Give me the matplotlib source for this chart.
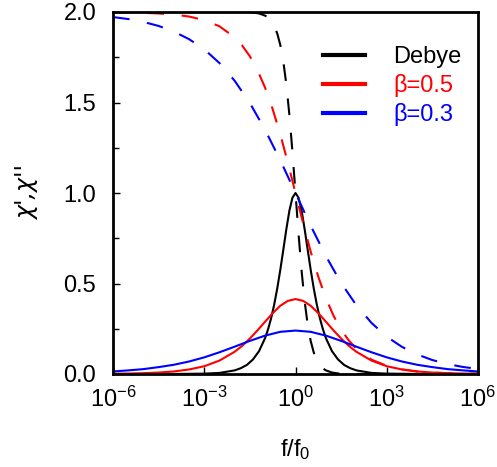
import matplotlib
matplotlib.use("Agg")
import matplotlib.pyplot as plt
from matplotlib.ticker import FixedLocator, FixedFormatter, MultipleLocator
from matplotlib.lines import Line2D
import numpy as np

plt.rcParams['font.family'] = ['Liberation Sans', 'DejaVu Sans']
plt.rcParams['mathtext.default'] = 'regular'

# ---- data (log10(f/f0) and values) ----
debye_logf = [-6, -4, -3, -2.5, -2, -1.8, -1.6, -1.4, -1.2, -1.0, -0.9, -0.8, -0.7, -0.6, -0.5,
              -0.4, -0.3, -0.2, -0.1, 0, 0.1, 0.2, 0.3, 0.4, 0.5, 0.6, 0.7, 0.8, 0.9, 1.0,
              1.2, 1.4, 1.6, 1.8, 2, 2.5, 3, 4, 6]
debye_real = [2.0, 2.0, 2.0, 2.0, 1.9998, 1.9995, 1.999, 1.997, 1.992, 1.980, 1.969, 1.951,
              1.923, 1.881, 1.818, 1.726, 1.598, 1.430, 1.226, 1.0, 0.774, 0.570, 0.402,
              0.274, 0.182, 0.119, 0.077, 0.049, 0.031, 0.020, 0.008, 0.003, 0.001, 0.0005,
              0.0002, 0.0, 0.0, 0.0, 0.0]
debye_imag = [0.0, 0.0002, 0.002, 0.006, 0.020, 0.032, 0.050, 0.080, 0.126, 0.198, 0.248,
              0.309, 0.384, 0.473, 0.575, 0.687, 0.801, 0.903, 0.974, 1.0, 0.974, 0.903,
              0.801, 0.687, 0.575, 0.473, 0.384, 0.309, 0.248, 0.198, 0.126, 0.080, 0.050,
              0.032, 0.020, 0.006, 0.002, 0.0002, 0.0]

b05_logf = [-6, -5.5, -5, -4.5, -4, -3.5, -3, -2.5, -2, -1.75, -1.5, -1.25, -1, -0.75, -0.5,
            -0.25, 0, 0.25, 0.5, 0.75, 1, 1.25, 1.5, 1.75, 2, 2.5, 3, 3.5, 4, 4.5, 5, 5.5, 6]
b05_real = [1.9986, 1.9975, 1.9955, 1.992, 1.986, 1.975, 1.955, 1.921, 1.860, 1.814, 1.755,
            1.678, 1.582, 1.463, 1.324, 1.167, 1.0, 0.833, 0.676, 0.537, 0.418, 0.322, 0.245,
            0.186, 0.140, 0.079, 0.045, 0.025, 0.014, 0.008, 0.0045, 0.0025, 0.0014]
b05_imag = [0.0014, 0.0025, 0.0045, 0.008, 0.014, 0.025, 0.043, 0.074, 0.123, 0.156, 0.196,
            0.241, 0.289, 0.336, 0.377, 0.404, 0.414, 0.404, 0.377, 0.336, 0.289, 0.241,
            0.196, 0.156, 0.123, 0.074, 0.043, 0.025, 0.014, 0.008, 0.0045, 0.0025, 0.0014]

b03_logf = [-6, -5.5, -5, -4.5, -4, -3.5, -3, -2.5, -2, -1.5, -1, -0.5, 0, 0.5, 1, 1.5, 2,
            2.5, 3, 3.5, 4, 4.5, 5, 5.5, 6]
b03_real = [1.972, 1.961, 1.945, 1.923, 1.892, 1.850, 1.794, 1.718, 1.620, 1.497, 1.349,
            1.181, 1.0, 0.819, 0.651, 0.503, 0.380, 0.282, 0.206, 0.150, 0.108, 0.077,
            0.055, 0.039, 0.028]
b03_imag = [0.014, 0.020, 0.027, 0.038, 0.051, 0.069, 0.092, 0.120, 0.151, 0.183, 0.212,
            0.233, 0.240, 0.233, 0.212, 0.183, 0.151, 0.120, 0.092, 0.069, 0.051, 0.038,
            0.027, 0.020, 0.014]

labels = ['Debye', 'β=0.5', 'β=0.3']
colors = ['black', '#ff0000', '#0000ff']
xtick_exp = [-6, -3, 0, 3, 6]

fig = plt.figure(figsize=(4.97, 4.67), dpi=100)
ax = fig.add_axes([113/497, 1-374/467, 365/497, 362/467])

series = [(debye_logf, debye_real, debye_imag),
          (b05_logf, b05_real, b05_imag),
          (b03_logf, b03_real, b03_imag)]
for (lf, re, im), c, lab in zip(series, colors, labels):
    f = 10.0 ** np.array(lf)
    ax.plot(f, re, color=c, lw=1.5, dashes=(8, 8.5))
    ax.plot(f, im, color=c, lw=1.5, label=lab)

ax.set_xscale('log')
ax.set_xlim(1e-6, 1e6)
ax.set_ylim(0, 2.0)
ax.xaxis.set_major_locator(FixedLocator([10.0**e for e in xtick_exp]))
ax.xaxis.set_major_formatter(FixedFormatter([r'$10^{%d}$' % e for e in xtick_exp]))
ax.xaxis.set_minor_locator(FixedLocator([]))
ax.yaxis.set_major_locator(MultipleLocator(0.5))
ax.yaxis.set_minor_locator(MultipleLocator(0.25))
ax.yaxis.set_major_formatter(plt.FuncFormatter(lambda v, p: '%.1f' % v))

for s in ax.spines.values():
    s.set_linewidth(2)
ax.tick_params(axis='both', which='both', direction='in', labelsize=17, width=1)
ax.tick_params(axis='both', which='major', length=5)
ax.tick_params(axis='y', which='minor', length=4)
ax.tick_params(axis='y', which='major', pad=12)
ax.tick_params(axis='x', which='major', pad=9)

ax.set_xlabel(r'f/f$_0$', fontsize=17, labelpad=18)
ax.set_ylabel("χ',χ''", fontsize=17, labelpad=18, family=['DejaVu Sans'], style='italic')

leg_handles = [Line2D([], [], color=c, lw=3) for c in colors]
leg = ax.legend(leg_handles, labels, loc='upper left', bbox_to_anchor=(0.575, 0.905),
                frameon=False, fontsize=17, handlelength=1.78, handletextpad=1.2,
                labelspacing=0.25, borderpad=0, borderaxespad=0)
for t, c in zip(leg.get_texts(), colors):
    t.set_color(c)

fig.savefig('out.png', dpi=100)
